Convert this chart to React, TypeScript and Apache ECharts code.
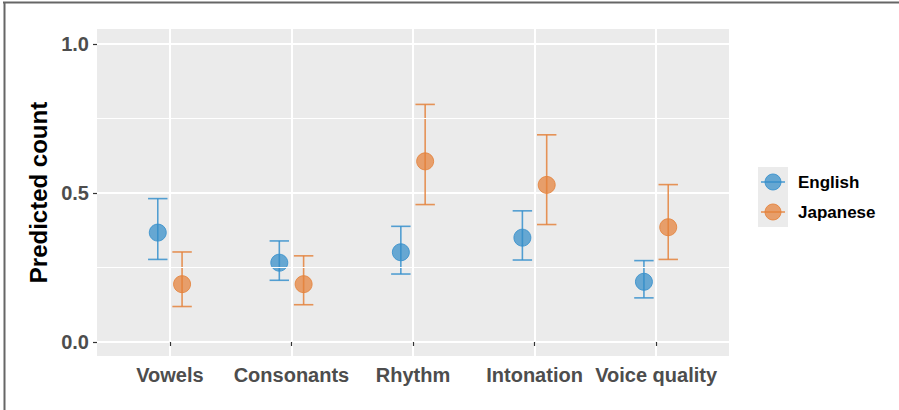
import React, { useEffect, useRef } from "react";
import * as echarts from "echarts";

const categories = ["Vowels", "Consonants", "Rhythm", "Intonation", "Voice quality"];
const groups = ["English", "Japanese"];
const englishMean = [0.367, 0.266, 0.301, 0.35, 0.202];
const englishLow = [0.277, 0.207, 0.228, 0.275, 0.148];
const englishHigh = [0.481, 0.339, 0.388, 0.44, 0.273];
const japaneseMean = [0.194, 0.194, 0.606, 0.527, 0.385];
const japaneseLow = [0.119, 0.125, 0.461, 0.394, 0.277];
const japaneseHigh = [0.302, 0.289, 0.797, 0.695, 0.528];
const yTicks = [0, 0.5, 1];
const yMinor = [0.25, 0.75];

const FONT = "'Liberation Sans', Arial, sans-serif";
const BLUE_FILL = "rgba(50,140,200,0.72)";
const BLUE_LINE = "rgba(55,145,205,0.85)";
const ORANGE_FILL = "rgba(228,128,55,0.72)";
const ORANGE_LINE = "rgba(228,130,60,0.85)";

const DODGE = 0.1;

function errSeries(name: string, low: number[], high: number[], offset: number, color: string) {
  return {
    name,
    type: "custom",
    z: 2,
    silent: true,
    data: categories.map((_, i) => [i + 1 + offset, low[i], high[i]]),
    renderItem: (params: any, api: any) => {
      const x = api.value(0);
      const lo = api.coord([x, api.value(1)]);
      const hi = api.coord([x, api.value(2)]);
      const hw = api.size([0.08, 0])[0];
      const style = { stroke: color, lineWidth: 1.6, fill: "none" };
      return {
        type: "group",
        children: [
          { type: "line", shape: { x1: lo[0], y1: lo[1], x2: hi[0], y2: hi[1] }, style },
          { type: "line", shape: { x1: hi[0] - hw, y1: hi[1], x2: hi[0] + hw, y2: hi[1] }, style },
          { type: "line", shape: { x1: lo[0] - hw, y1: lo[1], x2: lo[0] + hw, y2: lo[1] }, style },
        ],
      };
    },
  };
}

function pointSeries(name: string, mean: number[], offset: number, fill: string, stroke: string) {
  return {
    name,
    type: "scatter",
    z: 3,
    symbol: "circle",
    symbolSize: 17,
    itemStyle: { color: fill, borderColor: stroke, borderWidth: 1, opacity: 1 },
    data: categories.map((_, i) => [i + 1 + offset, mean[i]]),
  };
}

export default function App() {
  const ref = useRef<HTMLDivElement>(null);
  useEffect(() => {
    if (!ref.current) return;
    const chart = echarts.init(ref.current, null, { renderer: "svg" });
    const legendX = 758;
    const legendY = 167;
    const key = 30;
    const legendColors = [
      [BLUE_FILL, BLUE_LINE],
      [ORANGE_FILL, ORANGE_LINE],
    ];
    const legendGraphics: any[] = [
      { type: "rect", shape: { x: legendX, y: legendY, width: key, height: key * 2 }, style: { fill: "#EBEBEB" } },
    ];
    groups.forEach((g, i) => {
      const cy = legendY + key * i + key / 2;
      legendGraphics.push(
        { type: "line", shape: { x1: legendX + 3, y1: cy, x2: legendX + key - 3, y2: cy }, style: { stroke: legendColors[i][1], lineWidth: 1.6 } },
        { type: "circle", shape: { cx: legendX + key / 2, cy, r: 8 }, style: { fill: legendColors[i][0], stroke: legendColors[i][1], lineWidth: 1 } },
        { type: "text", x: legendX + key + 10, y: cy, style: { text: g, fill: "#000", font: `bold 17px ${FONT}`, verticalAlign: "middle", align: "left" } }
      );
    });

    chart.setOption({
      animation: false,
      backgroundColor: "#ffffff",
      grid: { left: 97, right: 170, top: 29, bottom: 54, show: true, backgroundColor: "#EBEBEB", borderWidth: 0 },
      xAxis: {
        type: "value",
        min: 0.4,
        max: 5.6,
        axisLine: { show: false },
        axisTick: { show: true, length: 4, lineStyle: { color: "#333", width: 1.2 }, customValues: [1, 2, 3, 4, 5] },
        axisLabel: {
          customValues: [1, 2, 3, 4, 5],
          formatter: (v: number) => categories[Math.round(v) - 1] ?? "",
          color: "#4D4D4D",
          fontFamily: FONT,
          fontWeight: "bold",
          fontSize: 20,
          margin: 9,
          hideOverlap: false,
        },
        splitLine: { show: true, lineStyle: { color: "#ffffff", width: 2 } },
      },
      yAxis: {
        type: "value",
        min: -0.047,
        max: 1.05,
        name: "Predicted count",
        nameLocation: "middle",
        nameRotate: 90,
        nameGap: 40,
        nameTextStyle: { color: "#000", fontFamily: FONT, fontWeight: "bold", fontSize: 24 },
        axisLine: { show: false },
        axisTick: { show: true, length: 4, lineStyle: { color: "#333", width: 1.2 }, customValues: yTicks },
        axisLabel: {
          customValues: yTicks,
          formatter: (v: number) => v.toFixed(1),
          color: "#4D4D4D",
          fontFamily: FONT,
          fontWeight: "bold",
          fontSize: 20,
          margin: 8,
        },
        splitLine: { show: true, lineStyle: { color: "#ffffff", width: 2 } },
      },
      series: [
        {
          type: "line",
          z: 1,
          silent: true,
          data: [],
          markLine: {
            silent: true,
            symbol: "none",
            label: { show: false },
            lineStyle: { color: "#ffffff", width: 1, type: "solid" },
            data: yMinor.map((v) => ({ yAxis: v })),
          },
        },
        errSeries(groups[0], englishLow, englishHigh, -DODGE, BLUE_LINE),
        errSeries(groups[1], japaneseLow, japaneseHigh, DODGE, ORANGE_LINE),
        pointSeries(groups[0], englishMean, -DODGE, BLUE_FILL, BLUE_LINE),
        pointSeries(groups[1], japaneseMean, DODGE, ORANGE_FILL, ORANGE_LINE),
      ],
      graphic: [
        { type: "line", shape: { x1: 3, y1: 2.5, x2: 899, y2: 2.5 }, style: { stroke: "#666", lineWidth: 2 } },
        { type: "line", shape: { x1: 4.5, y1: 2, x2: 4.5, y2: 410 }, style: { stroke: "#666", lineWidth: 2 } },
        ...legendGraphics,
      ],
    });
    return () => chart.dispose();
  }, []);
  return <div ref={ref} style={{ position: "fixed", left: 0, top: 0, width: 899, height: 410 }} />;
}
